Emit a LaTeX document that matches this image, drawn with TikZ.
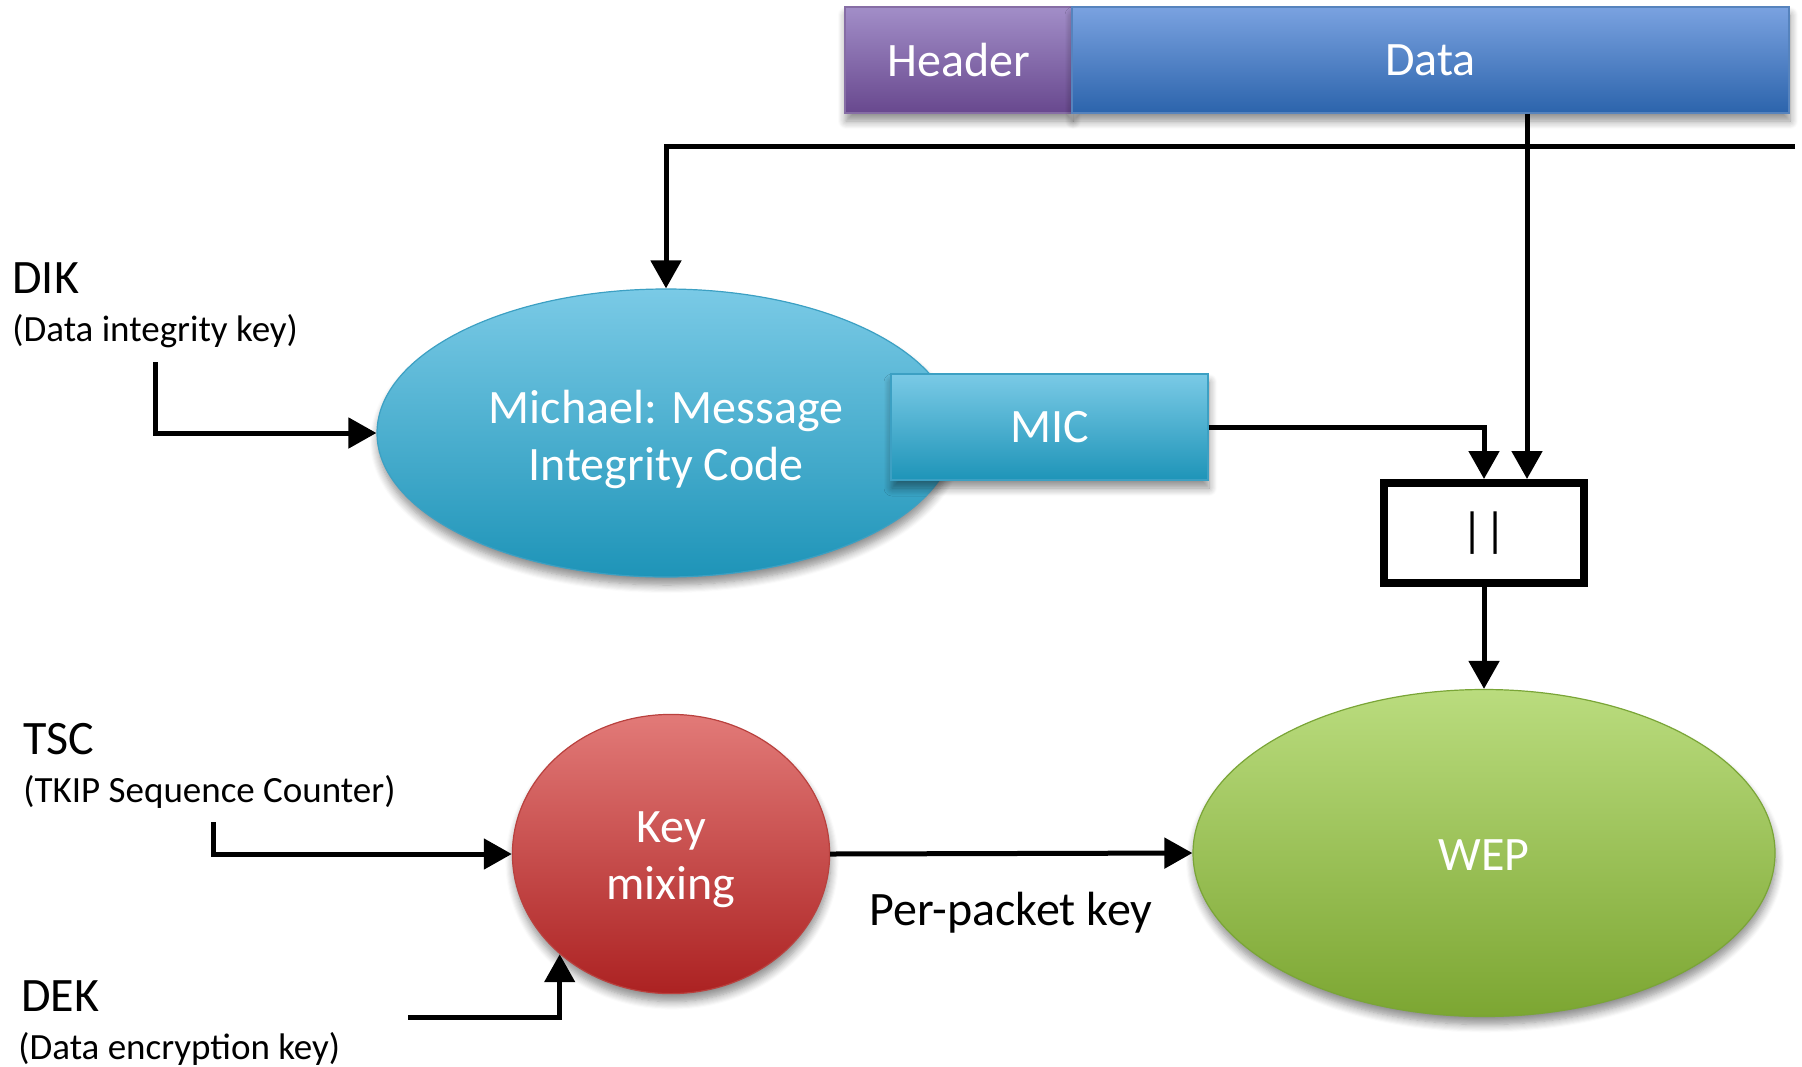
\documentclass[tikz,border=0pt]{standalone}
\usepackage{fontspec}
\setmainfont{Carlito}
\usetikzlibrary{shapes.geometric,arrows.meta,shadows.blur}

\definecolor{hdrTop}{RGB}{162,142,200}
\definecolor{hdrBot}{RGB}{104,72,142}
\definecolor{datTop}{RGB}{122,162,224}
\definecolor{datBot}{RGB}{44,100,172}
\definecolor{micTop}{RGB}{122,202,230}
\definecolor{micBot}{RGB}{30,148,184}
\definecolor{micEdge}{RGB}{60,160,195}
\definecolor{keyTop}{RGB}{226,122,120}
\definecolor{keyBot}{RGB}{172,34,34}
\definecolor{keyEdge}{RGB}{185,65,62}
\definecolor{wepTop}{RGB}{186,220,126}
\definecolor{wepBot}{RGB}{124,166,50}
\definecolor{wepEdge}{RGB}{122,165,55}

\begin{document}
\begin{tikzpicture}[x=0.5pt,y=-0.5pt,
  every node/.style={font=\fontsize{24}{28.5}\selectfont},
  softshadow/.style={blur shadow={shadow xshift=0.5pt,shadow yshift=-4pt,shadow blur radius=4pt,shadow blur steps=8,shadow opacity=45}},
  block/.style={rectangle, inner sep=0, text=white, softshadow, line width=0.6pt},
  oval/.style={ellipse, inner sep=0, softshadow, line width=0.6pt},
  ovaltext/.style={text=white, align=center, inner sep=0},
  arr/.style={line width=2.5pt, -{Triangle[length=14pt,width=15pt]}},
  keylabel/.style={anchor=base west, inner sep=0, font=\fontsize{24}{28}\selectfont},
  keynote/.style={anchor=base west, inner sep=0, font=\fontsize{18.5}{22}\selectfont},
]
\useasboundingbox (0,0) rectangle (1802,1066);

% packet: header and payload
\node[block, draw=hdrBot!80, top color=hdrTop, bottom color=hdrBot,
      minimum width=113.5pt, minimum height=53pt] (hdr) at (958.5,60) {Header};
\node[block, draw=datBot!80, top color=datTop, bottom color=datBot,
      minimum width=358.5pt, minimum height=53pt] (data) at (1430.5,60) {Data};

% Michael MIC computation
\node[oval, draw=micEdge, top color=micTop, bottom color=micBot,
      minimum width=289pt, minimum height=144pt] (michael) at (666,433) {};
\node[ovaltext] (michaeltxt) at ([yshift=-3pt]michael.center)
      {Michael: Message\\Integrity Code};
\node[block, draw=micEdge, top color=micTop, bottom color=micBot,
      minimum width=158.5pt, minimum height=53pt] (mic) at (1049.5,427) {MIC};

% concatenation
\node[draw, line width=4pt, minimum width=100pt, minimum height=50pt, inner sep=0]
      (cat) at (1484,533) {||};

% key mixing and WEP
\node[oval, draw=keyEdge, top color=keyTop, bottom color=keyBot,
      minimum width=158.6pt, minimum height=139.6pt] (key) at (671,854) {};
\node[ovaltext] (keytxt) at ([yshift=-3pt]key.center) {Key\\mixing};
\node[oval, draw=wepEdge, top color=wepTop, bottom color=wepBot,
      minimum width=291pt, minimum height=163.5pt] (wep) at (1484,853) {};
\node[ovaltext] (weptxt) at ([yshift=-1pt]wep.center) {WEP};

% input labels
\node[keylabel] (diklbl) at (12,293) {DIK};
\node[keynote] (diknote) at (12,341) {(Data integrity key)};
\node[keylabel] (tsclbl) at (23,754) {TSC};
\node[keynote] (tscnote) at (23,802) {(TKIP Sequence Counter)};
\node[keylabel] (deklbl) at (21,1011) {DEK};
\node[keynote] (deknote) at (18,1059) {(Data encryption key)};
\node[anchor=base] (ppk) at (1011,925) {Per-packet key};

% connectors
\coordinate (feed) at (1795,146);
\coordinate (datain) at ([xshift=21.5pt]cat.north);
\coordinate (dik) at (155,362);
\coordinate (tsc) at (213,822);
\coordinate (dek) at (408,1017);

\draw[arr] (feed) -| (michael.north);
\draw[arr] (data.south -| datain) -- (datain);
\draw[arr] (mic.east) -| (cat.north);
\draw[arr] (cat.south) -- (wep.north);
\draw[arr] (dik) |- (michael.west);
\draw[arr] (tsc) |- (key.west);
\draw[arr] (dek) -| (key.222);
\draw[arr] (key.east) -- (wep.west);
\end{tikzpicture}
\end{document}
